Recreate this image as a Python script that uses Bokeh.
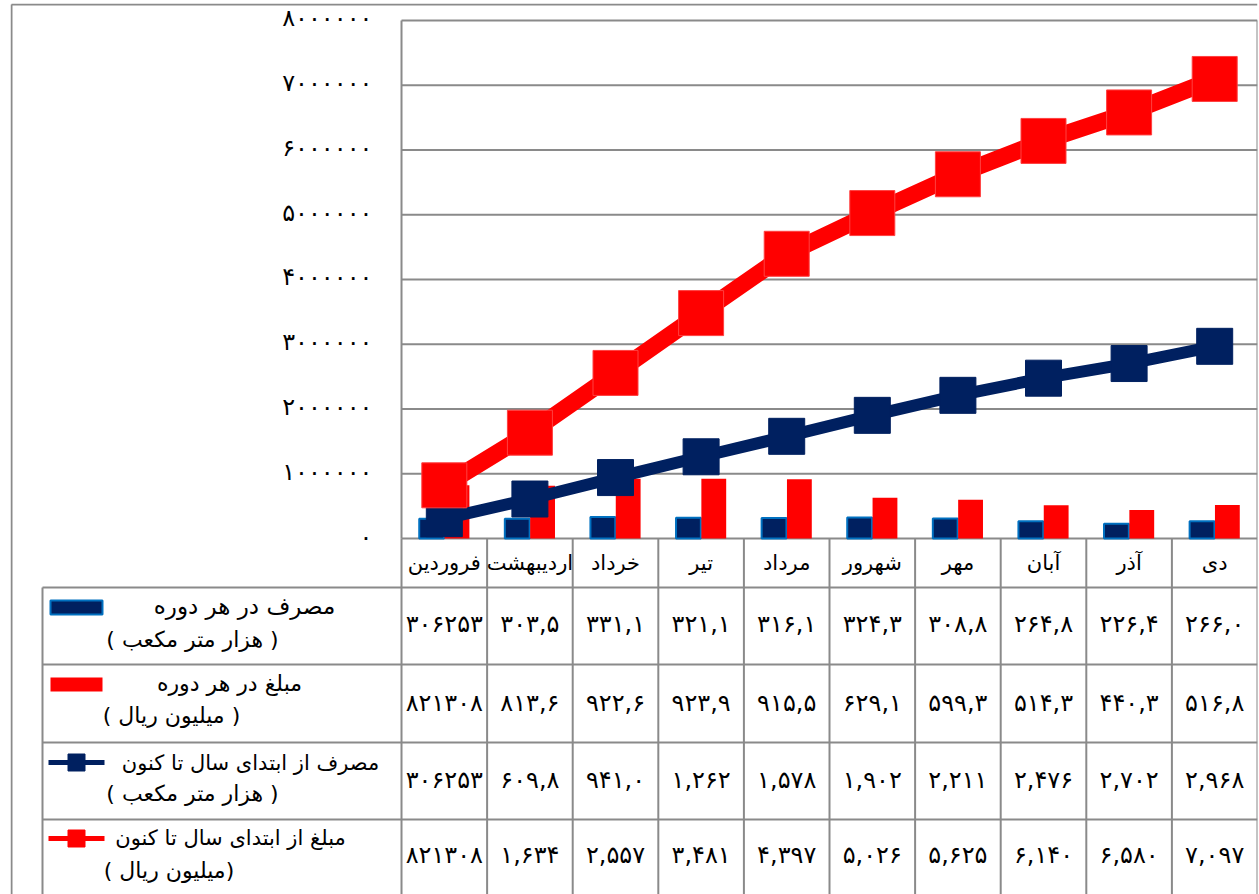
import numpy as np
from bokeh.plotting import figure
from bokeh.models import Range1d, ColumnDataSource
from bokeh.embed import file_html
from bokeh.resources import INLINE
from bokeh.core.properties import value

# ---------------- data ----------------
months = ["فروردین", "اردیبهشت", "خرداد", "تیر", "مرداد", "شهرور", "مهر", "آبان", "آذر", "دی"]

use_period = [306253, 303500, 331100, 321100, 316100, 324300, 308800, 264800, 226400, 266000]
cost_period = [821308, 813600, 922600, 923900, 915500, 629100, 599300, 514300, 440300, 516800]
use_cum = [306253, 609800, 941000, 1262000, 1578000, 1902000, 2211000, 2476000, 2702000, 2968000]
cost_cum = [821308, 1634000, 2557000, 3481000, 4397000, 5026000, 5625000, 6140000, 6580000, 7097000]

use_period_txt = ["۳۰۶۲۵۳", "۳۰۳,۵", "۳۳۱,۱", "۳۲۱,۱", "۳۱۶,۱", "۳۲۴,۳", "۳۰۸,۸", "۲۶۴,۸", "۲۲۶,۴", "۲۶۶,۰"]
cost_period_txt = ["۸۲۱۳۰۸", "۸۱۳,۶", "۹۲۲,۶", "۹۲۳,۹", "۹۱۵,۵", "۶۲۹,۱", "۵۹۹,۳", "۵۱۴,۳", "۴۴۰,۳", "۵۱۶,۸"]
use_cum_txt = ["۳۰۶۲۵۳", "۶۰۹,۸", "۹۴۱,۰", "۱,۲۶۲", "۱,۵۷۸", "۱,۹۰۲", "۲,۲۱۱", "۲,۴۷۶", "۲,۷۰۲", "۲,۹۶۸"]
cost_cum_txt = ["۸۲۱۳۰۸", "۱,۶۳۴", "۲,۵۵۷", "۳,۴۸۱", "۴,۳۹۷", "۵,۰۲۶", "۵,۶۲۵", "۶,۱۴۰", "۶,۵۸۰", "۷,۰۹۷"]

legend_line1 = ["مصرف در هر دوره", "مبلغ در هر دوره", "مصرف از ابتدای سال تا کنون", "مبلغ از ابتدای سال تا کنون"]
legend_line2 = ["( هزار متر مکعب )", "( میلیون ریال )", "( هزار متر مکعب )", "( میلیون  ریال)"]

y_ticks = [0, 1000000, 2000000, 3000000, 4000000, 5000000, 6000000, 7000000, 8000000]

# ---------------- helpers ----------------
FA = str.maketrans("0123456789", "۰۱۲۳۴۵۶۷۸۹")
def fa(v):
    return str(v).translate(FA)

y_tick_labels = [fa(v) for v in y_ticks]

NAVY = "#002060"
NAVY_EDGE = "#0070C0"
RED = "#FF0000"
GRID = "#8a8a8a"
FONT = value("DejaVu Sans")

n = len(months)
xc = np.arange(n) + 0.5

# ---------------- figure ----------------
W, H = 1259, 894
p = figure(width=W, height=H, output_backend="svg", toolbar_location=None,
           x_range=Range1d(-4.568, n), y_range=Range1d(-5.498e6, 8.2625e6),
           min_border_left=10, min_border_right=2, min_border_top=3, min_border_bottom=0,
           x_axis_location=None, y_axis_location=None)
p.grid.visible = False
p.outline_line_color = None
p.background_fill_color = "white"
p.border_fill_color = "white"

# pixel-like coordinate system for the table / legend layout
p.extra_x_ranges = {"px": Range1d(10, 1257)}
p.extra_y_ranges = {"px": Range1d(894, 3)}

# outer frame (left and top)
p.segment(x0=[11, 11], y0=[4, 4], x1=[11, 1257], y1=[894, 4], line_color=GRID, line_width=2,
          x_range_name="px", y_range_name="px")

# gridlines
p.segment(x0=[0] * len(y_ticks), x1=[n] * len(y_ticks), y0=y_ticks, y1=y_ticks,
          line_color=GRID, line_width=2)
# plot area verticals
p.segment(x0=[0, n], x1=[0, n], y0=[0, 0], y1=[y_ticks[-1]] * 2, line_color=GRID, line_width=2)

# y tick labels
p.text(x=[-0.34] * len(y_ticks), y=y_ticks, text=y_tick_labels, text_align="right",
       text_baseline="middle", text_font=FONT, text_font_size="24px", text_color="black",
       y_offset=-2)

# bars
bw = 0.29
p.vbar(x=xc - 0.148, top=use_period, width=bw, bottom=0, fill_color=NAVY,
       line_color=NAVY_EDGE, line_width=2)
p.vbar(x=xc + 0.148, top=cost_period, width=bw, bottom=0, fill_color=RED, line_color=None)

# cumulative lines
p.line(xc, use_cum, line_color=NAVY, line_width=12, line_join="miter")
p.scatter(xc, use_cum, marker="square", size=36, fill_color=NAVY, line_color=NAVY)
p.line(xc, cost_cum, line_color=RED, line_width=17, line_join="miter")
p.scatter(xc, cost_cum, marker="square", size=45, fill_color=RED, line_color="#ff4040", line_width=1)

# ---------------- data table ----------------
row_edges = [538, 587, 664, 742, 819]
p.segment(x0=list(range(n + 1)), x1=list(range(n + 1)), y0=[538] * (n + 1), y1=[894] * (n + 1),
          line_color=GRID, line_width=2, y_range_name="px")
p.segment(x0=[42] * 4, x1=[1257] * 4, y0=row_edges[1:], y1=row_edges[1:],
          line_color=GRID, line_width=2, x_range_name="px", y_range_name="px")
p.segment(x0=[42], x1=[42], y0=[587], y1=[894], line_color=GRID, line_width=2,
          x_range_name="px", y_range_name="px")

# header row: months
p.text(x=xc, y=[562] * n, text=months, text_align="center", text_baseline="middle",
       text_font=FONT, text_font_size="21px", text_color="black", y_range_name="px")

row_centers = [623, 702, 779, 854]
for rc, vals in zip(row_centers, [use_period_txt, cost_period_txt, use_cum_txt, cost_cum_txt]):
    p.text(x=xc, y=[rc] * n, text=vals, text_align="center", text_baseline="middle",
           text_font=FONT, text_font_size="24px", text_color="black", y_range_name="px")

# legend keys
p.quad(left=[50], right=[102], top=[600], bottom=[614], fill_color=NAVY, line_color=NAVY_EDGE,
       line_width=2, x_range_name="px", y_range_name="px")
p.quad(left=[50], right=[102], top=[677], bottom=[691], fill_color=RED, line_color=None,
       x_range_name="px", y_range_name="px")
p.segment(x0=[48], x1=[104], y0=[762], y1=[762], line_color=NAVY, line_width=5,
          x_range_name="px", y_range_name="px")
p.scatter(x=[76], y=[762], marker="square", size=17, fill_color=NAVY, line_color=NAVY,
          x_range_name="px", y_range_name="px")
p.segment(x0=[48], x1=[104], y0=[838], y1=[838], line_color=RED, line_width=5,
          x_range_name="px", y_range_name="px")
p.scatter(x=[76], y=[838], marker="square", size=17, fill_color=RED, line_color=RED,
          x_range_name="px", y_range_name="px")

# legend texts
l1 = ColumnDataSource(dict(x=[244, 229, 250, 230], y=[605, 683, 762, 837], text=legend_line1,
                           size=["23px", "22px", "21px", "21px"]))
p.text(x="x", y="y", text="text", source=l1, text_align="center", text_baseline="middle",
       text_font=FONT, text_font_size="size", text_color="black",
       x_range_name="px", y_range_name="px")
l2 = ColumnDataSource(dict(x=[192, 171, 192, 172], y=[639, 715, 793, 870], text=legend_line2))
p.text(x="x", y="y", text="text", source=l2, text_align="center", text_baseline="middle",
       text_font=FONT, text_font_size="22px", text_color="black",
       x_range_name="px", y_range_name="px")

open("out.html", "w").write(file_html(p, INLINE))
